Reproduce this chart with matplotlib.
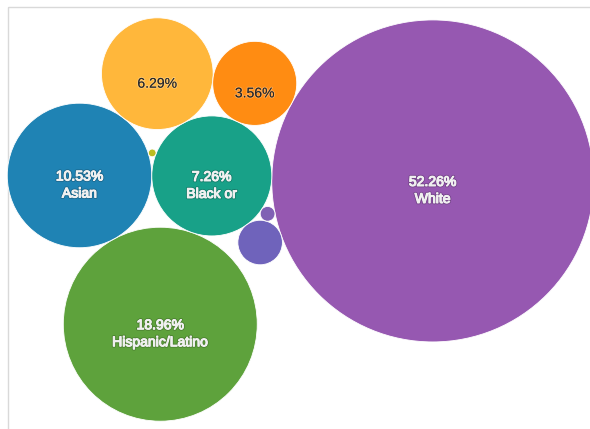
import math

import matplotlib
matplotlib.use('Agg')
import matplotlib.pyplot as plt
import matplotlib.patheffects as pe
from matplotlib.colors import to_rgb
from matplotlib.patches import Circle, Rectangle


# share of each group (percent) and the text shown inside its bubble
shares = [52.26, 18.96, 10.53, 7.26, 6.29, 3.56, 1.00, 0.11, 0.03]
shown_names = ['White', 'Hispanic/Latino', 'Asian', 'Black or', '', '', '', '', '']
colors = ['#9658b1', '#5ea23c', '#1f83b4', '#18a188', '#ffb73b',
          '#ff8c12', '#6f63bb', '#8061b4', '#bcbd22']

W, H = 590, 429
PLOT_BOX = (8, 7, 593, 432)   # left, top, right, bottom in px
R_MAX = 161.0                 # radius of the largest bubble, px
MIN_LABEL_SHARE = 2.0
FONT = 'Liberation Sans'
FONT_PT = 14 * 0.72

radii = [R_MAX * math.sqrt(v / max(shares)) for v in shares]
centers = {}


def touching(i, j, r, side):
    """Centre of a circle of radius r that touches circles i and j."""
    (x1, y1), r1 = centers[i], radii[i]
    (x2, y2), r2 = centers[j], radii[j]
    d = math.hypot(x2 - x1, y2 - y1)
    a, b = r1 + r, r2 + r
    along = (a * a - b * b + d * d) / (2 * d)
    h = math.sqrt(max(a * a - along * along, 0.0))
    ux, uy = (x2 - x1) / d, (y2 - y1) / d
    px, py = x1 + along * ux, y1 + along * uy
    cands = [(px - h * uy, py + h * ux), (px + h * uy, py - h * ux)]
    key = {'up': lambda p: p[1], 'down': lambda p: -p[1],
           'left': lambda p: p[0], 'right': lambda p: -p[0]}[side]
    return min(cands, key=key)


# packed layout (y grows downwards, like the screen)
centers[0] = (0.0, 0.0)
ang = math.radians(181.3)
centers[3] = (math.cos(ang) * (radii[0] + radii[3]), math.sin(ang) * (radii[0] + radii[3]))
centers[5] = touching(0, 3, radii[5], 'up')
centers[4] = touching(3, 5, radii[4], 'left')
centers[2] = touching(3, 4, radii[2], 'left')
centers[1] = touching(2, 3, radii[1], 'down')
centers[6] = touching(3, 0, radii[6], 'down')
centers[7] = touching(6, 0, radii[7], 'up')
centers[8] = touching(2, 3, radii[8], 'up')

# centre the pack inside the plot box
x0 = min(centers[k][0] - radii[k] for k in centers)
x1 = max(centers[k][0] + radii[k] for k in centers)
y0 = min(centers[k][1] - radii[k] for k in centers)
y1 = max(centers[k][1] + radii[k] for k in centers)
dx = (PLOT_BOX[0] + PLOT_BOX[2]) / 2 - (x0 + x1) / 2
dy = (PLOT_BOX[1] + PLOT_BOX[3]) / 2 - (y0 + y1) / 2

fig = plt.figure(figsize=(W / 100, H / 100), dpi=100)
ax = fig.add_axes([0, 0, 1, 1])
ax.set_xlim(0, W)
ax.set_ylim(H, 0)
ax.axis('off')

ax.add_patch(Rectangle((PLOT_BOX[0], PLOT_BOX[1]), PLOT_BOX[2] - PLOT_BOX[0],
                       PLOT_BOX[3] - PLOT_BOX[1], fill=False,
                       edgecolor='#d9d9d9', linewidth=1.0))

for k in range(len(shares)):
    cx, cy = centers[k][0] + dx, centers[k][1] + dy
    ax.add_patch(Circle((cx, cy), radii[k], facecolor=colors[k],
                        edgecolor='white', linewidth=0.6, zorder=2))
    if shares[k] < MIN_LABEL_SHARE:
        continue
    r, g, b = to_rgb(colors[k])
    lum = 0.2126 * r + 0.7152 * g + 0.0722 * b
    if lum > 0.58:
        tc = '#262626'
        effects = [pe.withStroke(linewidth=1.4, foreground=(1, 1, 1, 0.25))]
    else:
        tc = '#f0f0f0'
        effects = [pe.withStroke(linewidth=2.0, foreground=(0, 0, 0, 0.22)),
                   pe.withStroke(linewidth=0.8, foreground=tc)]
    pct = f'{shares[k]:.2f}%'
    if shown_names[k]:
        ax.text(cx, cy + 1, pct, ha='center', va='center', color=tc,
                fontsize=FONT_PT, family=FONT, path_effects=effects, zorder=3)
        ax.text(cx, cy + 18, shown_names[k], ha='center', va='center', color=tc,
                fontsize=FONT_PT, family=FONT, path_effects=effects, zorder=3)
    else:
        ax.text(cx, cy + 10, pct, ha='center', va='center', color=tc,
                fontsize=FONT_PT, family=FONT, path_effects=effects, zorder=3)

fig.savefig('out.png', dpi=100)
